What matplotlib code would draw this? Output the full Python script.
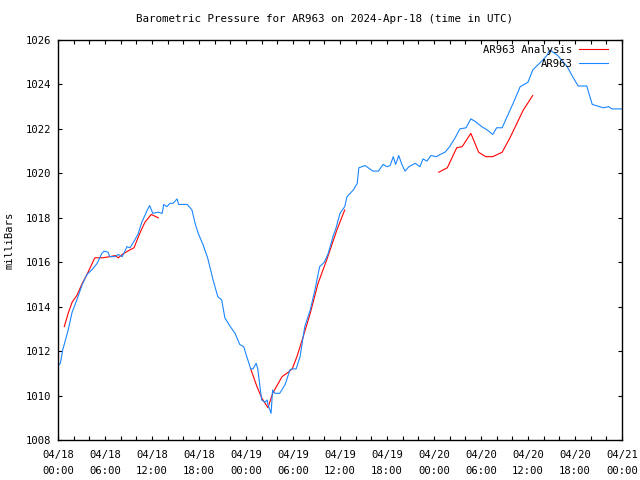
import numpy as np
import matplotlib
matplotlib.use('Agg')
import matplotlib.pyplot as plt

# hours after 2024-04-18 00:00 UTC
obs_hours = [0.0, 0.3, 0.6, 1.3, 1.8, 2.4, 3.1, 3.7, 4.3, 5.0, 5.6, 5.9, 6.4, 6.6,
             7.3, 7.7, 8.2, 8.8, 9.2, 9.8, 10.2, 10.7, 11.4, 11.7, 12.1, 12.8, 13.3,
             13.5, 13.9, 14.3, 14.7, 15.2, 15.4, 16.5, 17.1, 17.5, 17.9, 18.5, 19.1,
             19.8, 20.4, 20.9, 21.3, 22.0, 22.6, 23.2, 23.7, 24.1, 24.6, 24.9, 25.3,
             25.5, 26.0, 26.4, 26.7, 26.8, 27.2, 27.4, 27.7, 28.3, 29.0, 29.6, 29.9,
             30.4, 30.9, 31.5, 32.2, 32.8, 33.4, 34.0, 34.5, 35.1, 35.5, 36.0, 36.6,
             36.9, 37.7, 38.2, 38.4, 39.2, 39.8, 40.2, 40.9, 41.5, 42.0, 42.4, 42.8,
             43.1, 43.5, 43.9, 44.3, 44.8, 45.6, 46.2, 46.6, 47.1, 47.6, 48.3, 48.8,
             49.4, 50.0, 50.7, 51.3, 52.1, 52.7, 53.2, 54.1, 54.8, 55.5, 56.0, 56.7,
             57.4, 58.1, 59.0, 60.0, 60.6, 61.9, 62.4, 62.8, 63.8, 65.0, 65.7, 66.4,
             67.5, 68.2, 69.6, 70.3, 70.7, 72.0]
obs_press = [1011.35, 1011.45, 1012.05, 1012.95, 1013.75, 1014.3, 1015.0, 1015.45,
             1015.65, 1015.95, 1016.4, 1016.5, 1016.45, 1016.25, 1016.25, 1016.35,
             1016.25, 1016.7, 1016.65, 1017.0, 1017.25, 1017.8, 1018.35, 1018.55,
             1018.2, 1018.25, 1018.2, 1018.6, 1018.5, 1018.65, 1018.65, 1018.85,
             1018.6, 1018.6, 1018.35, 1017.75, 1017.3, 1016.8, 1016.2, 1015.2,
             1014.45, 1014.3, 1013.5, 1013.1, 1012.8, 1012.3, 1012.2, 1011.75,
             1011.2, 1011.2, 1011.45, 1011.2, 1009.8, 1009.7, 1009.8, 1009.6,
             1009.2, 1010.25, 1010.1, 1010.1, 1010.5, 1011.15, 1011.2, 1011.2,
             1011.75, 1013.1, 1013.85, 1014.75, 1015.8, 1016.0, 1016.4, 1017.15,
             1017.55, 1018.2, 1018.5, 1018.95, 1019.25, 1019.55, 1020.25, 1020.35,
             1020.2, 1020.1, 1020.1, 1020.4, 1020.3, 1020.35, 1020.75, 1020.4,
             1020.8, 1020.4, 1020.1, 1020.3, 1020.45, 1020.3, 1020.65, 1020.55,
             1020.8, 1020.75, 1020.85, 1020.95, 1021.2, 1021.6, 1022.0, 1022.05,
             1022.45, 1022.35, 1022.1, 1021.95, 1021.75, 1022.05, 1022.05, 1022.6,
             1023.15, 1023.9, 1024.1, 1024.65, 1025.1, 1025.3, 1025.55, 1025.3,
             1024.8, 1024.35, 1023.93, 1023.93, 1023.1, 1022.95, 1023.0, 1022.9,
             1022.9]

# analysis runs (three separate segments)
ana1_hours = [0.8, 1.3, 1.8, 2.4, 3.1, 3.7, 4.7, 5.7, 6.6, 7.3, 7.7, 8.2, 8.9, 9.7,
              10.5, 11.1, 11.9, 12.8]
ana1_press = [1013.1, 1013.7, 1014.2, 1014.5, 1015.05, 1015.45, 1016.2, 1016.2,
              1016.25, 1016.3, 1016.2, 1016.35, 1016.5, 1016.65, 1017.35, 1017.8,
              1018.15, 1018.0]
ana2_hours = [24.6, 25.4, 26.0, 26.8, 27.4, 28.6, 29.4, 29.9, 30.5, 31.3, 32.2, 33.2,
              34.3, 35.6, 36.6]
ana2_press = [1011.2, 1010.4, 1009.9, 1009.45, 1010.1, 1010.85, 1011.05, 1011.2,
              1011.75, 1012.65, 1013.7, 1015.05, 1016.1, 1017.45, 1018.35]
ana3_hours = [48.6, 49.7, 50.9, 51.6, 52.7, 53.7, 54.6, 55.5, 56.7, 57.7, 59.4, 60.6]
ana3_press = [1020.05, 1020.25, 1021.15, 1021.2, 1021.8, 1020.95, 1020.75, 1020.75,
              1020.95, 1021.6, 1022.85, 1023.5]

tick_hours = list(range(0, 73, 6))
tick_labels = ['04/18\n00:00', '04/18\n06:00', '04/18\n12:00', '04/18\n18:00',
               '04/19\n00:00', '04/19\n06:00', '04/19\n12:00', '04/19\n18:00',
               '04/20\n00:00', '04/20\n06:00', '04/20\n12:00', '04/20\n18:00',
               '04/21\n00:00']
y_ticks = list(range(1008, 1027, 2))

plt.rcParams['font.family'] = 'DejaVu Sans Mono'
fs = 7.6

fig = plt.figure(figsize=(6.4, 4.8), dpi=100)
ax = fig.add_axes([58/640, 40/480, 564/640, 400/480])

ax.plot(ana1_hours, ana1_press, color='#ff0000', lw=0.8, label='AR963 Analysis')
ax.plot(ana2_hours, ana2_press, color='#ff0000', lw=0.8)
ax.plot(ana3_hours, ana3_press, color='#ff0000', lw=0.8)
ax.plot(obs_hours, obs_press, color='#1a86ff', lw=0.8, label='AR963')

ax.set_xlim(0, 72)
ax.set_ylim(1008, 1026)
ax.set_xticks(tick_hours)
ax.set_xticklabels(tick_labels, fontsize=fs, linespacing=1.75)
ax.set_xticks(range(0, 73, 2), minor=True)
ax.set_yticks(y_ticks)
ax.set_yticklabels([str(v) for v in y_ticks], fontsize=fs)

ax.tick_params(which='both', direction='in', length=3, width=0.8,
               top=True, right=True)
ax.tick_params(axis='x', pad=7)
ax.tick_params(axis='y', pad=5)
for s in ax.spines.values():
    s.set_linewidth(1.0)

ax.set_ylabel('milliBars', fontsize=fs, labelpad=8)
fig.text(324/640, 1 - 19/480,
         'Barometric Pressure for AR963 on 2024-Apr-18 (time in UTC)',
         fontsize=7.8, ha='center', va='center')

ax.legend(loc='upper right', frameon=False, markerfirst=False, fontsize=fs,
          handlelength=2.7, handletextpad=0.65, labelspacing=0.38,
          borderaxespad=0.0, borderpad=0.2,
          bbox_to_anchor=(1 - 12/564, 1 - 3/400))

fig.savefig('out.png', dpi=100)
